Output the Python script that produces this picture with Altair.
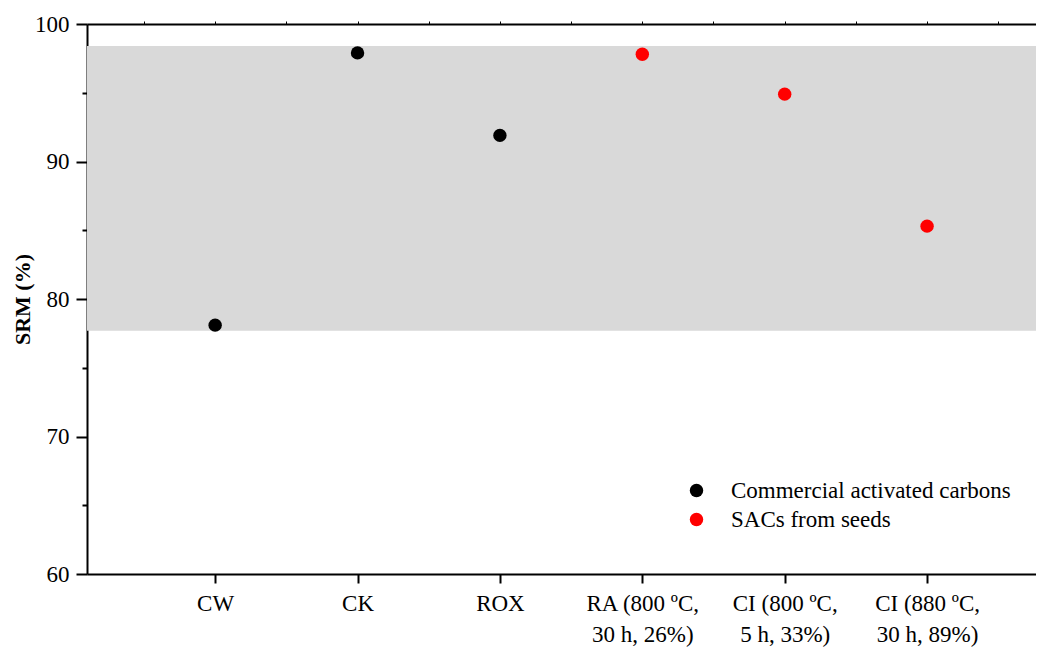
import json
import altair as alt
import pandas as pd

# ---- data ----
categories = ["CW", "CK", "ROX", "RA (800 ºC, 30 h, 26%)", "CI (800 ºC, 5 h, 33%)", "CI (880 ºC, 30 h, 89%)"]
label_lines = [["CW"], ["CK"], ["ROX"], ["RA (800 ºC,", "30 h, 26%)"], ["CI (800 ºC,", "5 h, 33%)"], ["CI (880 ºC,", "30 h, 89%)"]]
positions = [1, 2, 3, 4, 5, 6]
srm_values = [78.1, 97.9, 91.9, 97.8, 94.9, 85.3]
groups = ["Commercial activated carbons", "Commercial activated carbons", "Commercial activated carbons",
          "SACs from seeds", "SACs from seeds", "SACs from seeds"]
group_order = ["Commercial activated carbons", "SACs from seeds"]
group_colors = ["#000000", "#ff0000"]
band_low = [77.7]
band_high = [98.4]
y_major = [60, 70, 80, 90, 100]
y_minor = [65, 75, 85, 95]
x_half = [0.5, 1, 1.5, 2, 2.5, 3, 3.5, 4, 4.5, 5, 5.5, 6, 6.5]

XDOM = [0.1, 6.765]
YDOM = [60, 100]
FONT = "Liberation Serif"
FS = 23
W, H = 949, 550

df = pd.DataFrame({"pos": positions, "srm": srm_values, "group": groups, "cat": categories})
band_df = pd.DataFrame({"lo": band_low, "hi": band_high})
dummy = pd.DataFrame({"x": [XDOM[0]], "y": [YDOM[0]]})

label_expr = json.dumps(label_lines, ensure_ascii=False) + "[round(datum.value) - 1]"

xs = alt.Scale(domain=XDOM, nice=False, zero=False)
ys = alt.Scale(domain=YDOM, nice=False, zero=False)

band = alt.Chart(band_df).mark_rect(color="#d9d9d9").encode(
    x=alt.value(0), x2=alt.value(W),
    y=alt.Y("lo:Q", scale=ys, axis=None), y2="hi:Q",
)

points = alt.Chart(df).mark_circle(size=180, opacity=1).encode(
    x=alt.X("pos:Q", scale=xs, axis=alt.Axis(
        orient="bottom", values=positions, labelExpr=label_expr, title=None,
        tickSize=9, tickWidth=2, domainWidth=2, domainColor="black", tickColor="black",
        labelFont=FONT, labelFontSize=FS, labelColor="black", labelPadding=9,
        labelLineHeight=31, labelBaseline="top", grid=False)),
    y=alt.Y("srm:Q", scale=ys, axis=alt.Axis(
        orient="left", values=y_major, title="SRM (%)", tickSize=11, tickWidth=2,
        domainWidth=2, domainColor="black", tickColor="black",
        labelFont=FONT, labelFontSize=FS, labelColor="black", labelPadding=7,
        titleFont=FONT, titleFontSize=22, titleFontWeight="bold", titleColor="black",
        titleX=-53, titleY=H / 2, titleAngle=270, titleAlign="center", titleBaseline="bottom",
        grid=False)),
    color=alt.Color("group:N", scale=alt.Scale(domain=group_order, range=group_colors),
                    legend=alt.Legend(orient="none", legendX=598, legendY=455, title=None,
                                      symbolType="circle", symbolSize=180, symbolStrokeWidth=0,
                                      labelFont=FONT, labelFontSize=FS, labelColor="black",
                                      labelOffset=23, labelLimit=500, rowPadding=5, padding=0)),
)

minor_layer = alt.Chart(dummy).mark_point(opacity=0).encode(
    x=alt.X("x:Q", scale=xs, axis=alt.Axis(
        orient="top", values=x_half, labels=False, title=None, tickSize=3, tickWidth=1,
        domainWidth=2, domainColor="black", tickColor="black", grid=False)),
    y=alt.Y("y:Q", scale=ys, axis=alt.Axis(
        orient="left", values=y_minor, labels=False, title=None, tickSize=5, tickWidth=2,
        domain=False, tickColor="black", grid=False)),
)

chart = alt.layer(band, points, minor_layer).resolve_scale(
    x="independent", y="independent"
).properties(
    width=W, height=H,
    autosize=alt.AutoSizeParams(type="none"),
    padding={"left": 79, "top": 16, "right": 0, "bottom": 79},
).configure_view(stroke=None).configure(background="white")

chart.save("out.html", embed_options={"renderer": "svg", "actions": False})
